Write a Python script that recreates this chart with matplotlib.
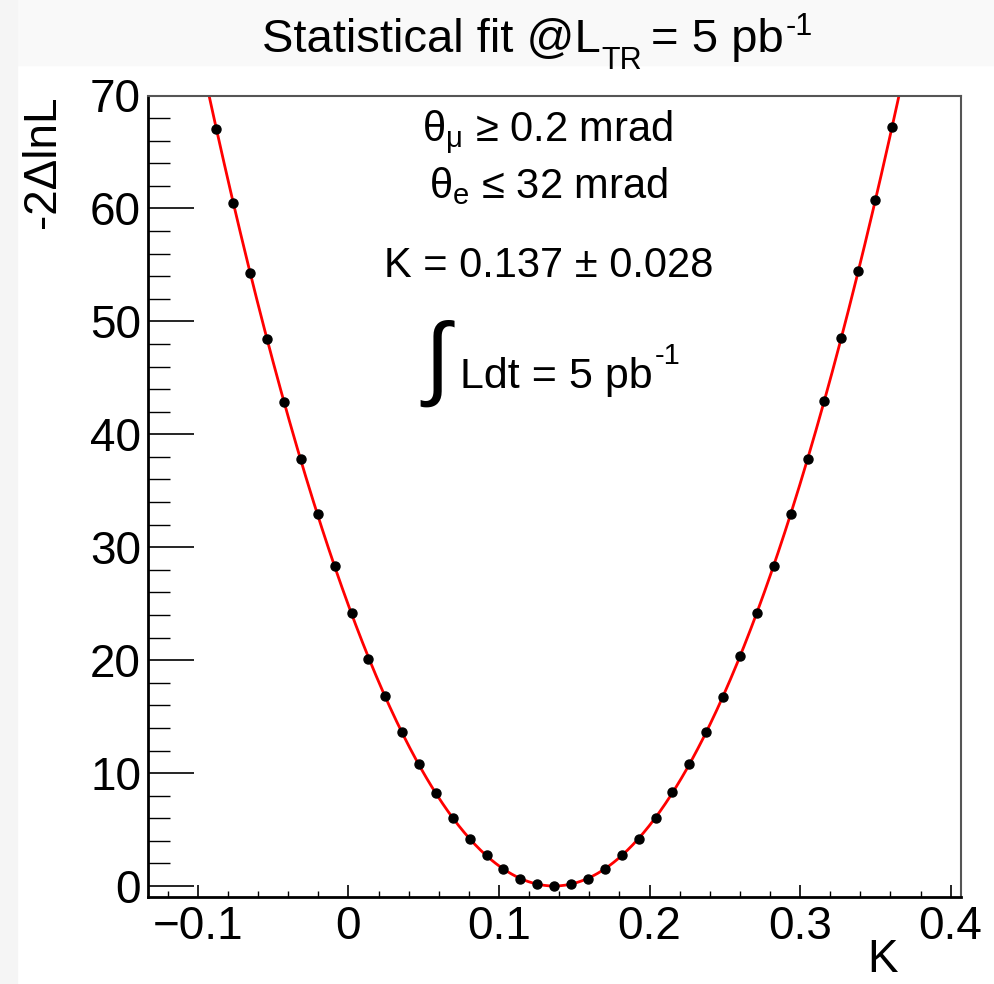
#!/usr/bin/env python3

import numpy as np
import matplotlib
matplotlib.use('Agg')
import matplotlib.pyplot as plt
from matplotlib.patches import Rectangle

# Scan points
k_values = [-0.0877, -0.0765, -0.0653, -0.0540, -0.0428, -0.0316, -0.0204, -0.0092,
            0.0021, 0.0133, 0.0245, 0.0357, 0.0469, 0.0582, 0.0694, 0.0806,
            0.0918, 0.1030, 0.1143, 0.1255, 0.1367, 0.1479, 0.1591, 0.1704,
            0.1816, 0.1928, 0.2040, 0.2152, 0.2265, 0.2377, 0.2489, 0.2601,
            0.2713, 0.2826, 0.2938, 0.3050, 0.3162, 0.3274, 0.3387, 0.3499, 0.3611]
nll_values = [67.0, 60.5, 54.3, 48.4, 42.9, 37.8, 32.9, 28.3,
              24.2, 20.1, 16.8, 13.6, 10.8, 8.2, 6.0, 4.15,
              2.72, 1.53, 0.65, 0.2, 0.0, 0.2, 0.65, 1.53,
              2.72, 4.2, 6.05, 8.3, 10.8, 13.6, 16.75, 20.35,
              24.15, 28.35, 32.95, 37.85, 42.95, 48.5, 54.5, 60.75, 67.25]

x_ticks = [-0.1, 0, 0.1, 0.2, 0.3, 0.4]
x_tick_labels = ['\u22120.1', '0', '0.1', '0.2', '0.3', '0.4']
y_ticks = [0, 10, 20, 30, 40, 50, 60, 70]

plt.rcParams['font.family'] = ['Liberation Sans', 'DejaVu Sans']
plt.rcParams['mathtext.fontset'] = 'custom'
plt.rcParams['mathtext.rm'] = 'Liberation Sans'
plt.rcParams['mathtext.it'] = 'Liberation Sans:italic'
plt.rcParams['mathtext.bf'] = 'Liberation Sans:bold'

W, H = 995, 984
fig = plt.figure(figsize=(W / 100, H / 100), dpi=100, facecolor='white')
rend = fig.canvas.get_renderer()

# light screenshot bands
fig.patches.append(Rectangle((0, 1 - 65 / H), 1, 65 / H, transform=fig.transFigure,
                             color='#f9f9f9', zorder=0))
fig.patches.append(Rectangle((0, 0), 17 / W, 1, transform=fig.transFigure,
                             color='#f5f5f5', zorder=0))

ax = fig.add_axes([148 / W, 1 - 897 / H, (961 - 148) / W, (897 - 95.5) / H])

# fit curve (quadratic fit to the scan points)
coef = np.polyfit(k_values, nll_values, 2)
kk = np.linspace(-0.133, 0.407, 600)
ax.plot(kk, np.polyval(coef, kk), color='red', lw=2.0, zorder=2)
ax.plot(k_values, nll_values, 'o', color='black', ms=6.5, zorder=3)

ax.set_xlim(-0.1331, 0.4069)
ax.set_ylim(-0.97, 70)

ax.set_xticks(x_ticks)
ax.set_xticklabels(x_tick_labels, fontsize=33)
ax.set_xticks(np.arange(-0.12, 0.41, 0.02), minor=True)
ax.set_yticks(y_ticks)
ax.set_yticklabels([str(v) for v in y_ticks], fontsize=33)
ax.set_yticks(np.arange(0, 71, 2), minor=True)

ax.tick_params(axis='x', which='major', direction='in', length=8.5, width=1.2, pad=6,
               top=False)
ax.tick_params(axis='x', which='minor', direction='in', length=4.3, width=1.0, top=False)
ax.tick_params(axis='y', which='major', direction='in', length=33, width=1.2, pad=5,
               right=False)
ax.tick_params(axis='y', which='minor', direction='in', length=16, width=1.0, right=False)

for side in ['left', 'bottom']:
    ax.spines[side].set_linewidth(2.0)
    ax.spines[side].set_color('black')
for side in ['top', 'right']:
    ax.spines[side].set_linewidth(1.5)
    ax.spines[side].set_color('#555555')

# axis titles
fig.text(43 / W, 1 - 95 / H, '-2\u0394lnL', rotation=90, ha='center', va='top', fontsize=33)
fig.text(883 / W, 1 - 972 / H, 'K', ha='center', va='baseline', fontsize=33)


def put_run(x_px, base_px, parts):
    # parts: (text, fontsize, baseline shift in px, gap before in px)
    for txt, size, shift, gap in parts:
        x_px += gap
        t = fig.text(x_px / W, 1 - (base_px - shift) / H, txt, fontsize=size,
                     ha='left', va='baseline')
        x_px = t.get_window_extent(rend).x1
    return x_px


# title
put_run(262, 52, [('Statistical fit @L', 34, 0, 0),
                  ('TR', 22, -17, 1),
                  ('= 5 pb', 34, 0, 9),
                  ('-1', 22, 17, 2)])

# annotation block
fig.text(548 / W, 1 - 142 / H, r'$\mathrm{\theta}_{\mathrm{\mu}}$ ' + '\u2265 0.2 mrad',
         ha='center', va='baseline', fontsize=30)
fig.text(548 / W, 1 - 198 / H, r'$\mathrm{\theta}_{\mathrm{e}}$ ' + '\u2264 32 mrad',
         ha='center', va='baseline', fontsize=30)
fig.text(549 / W, 1 - 277 / H, 'K = 0.137 \u00b1 0.028',
         ha='center', va='baseline', fontsize=30)
fig.text(437 / W, 1 - 363 / H, '\u222b', ha='center', va='center', fontsize=66)
put_run(460, 388, [('Ldt = 5 pb', 31, 0, 0),
                   ('-1', 21, 24, 2)])

fig.savefig('out.png', dpi=100, facecolor=fig.get_facecolor())
